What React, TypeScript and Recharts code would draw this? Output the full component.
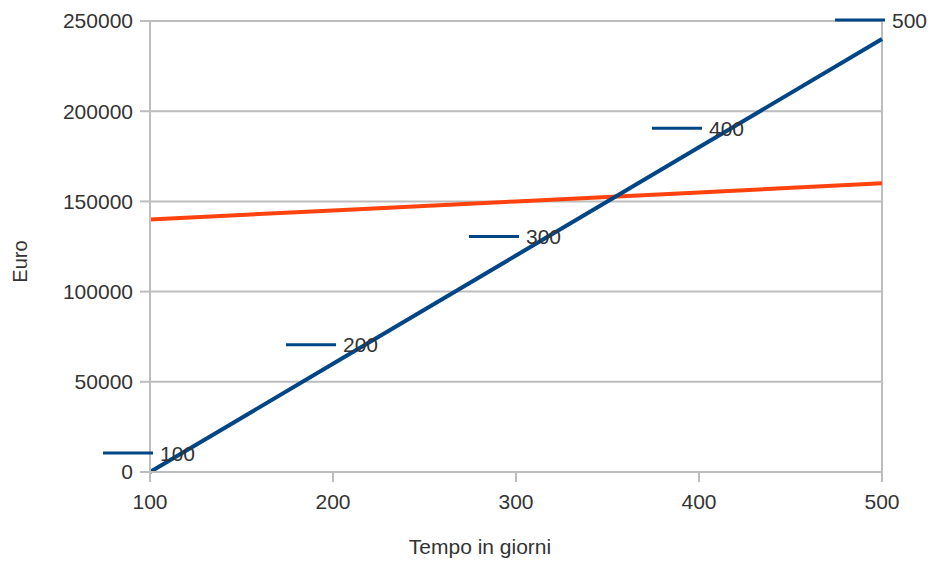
import React from 'react';
import { LineChart, Line, XAxis, YAxis, CartesianGrid, LabelList, ReferenceLine } from 'recharts';

const giorni = [100, 200, 300, 400, 500];
const costoA = [0, 60000, 120000, 180000, 240000];
const costoB = [140000, 145000, 150000, 155000, 160000];
const xTicks = [100, 200, 300, 400, 500];
const yTicks = [0, 50000, 100000, 150000, 200000, 250000];

const data = giorni.map((g, i) => ({ x: g, a: costoA[i], b: costoB[i] }));

const FONT = '"Liberation Sans", Arial, sans-serif';
const BLUE = '#004586';
const ORANGE = '#ff420e';
const GRID = '#bdbdbd';
const TEXT = '#333333';

const PointLabel = (props: any) => {
  const { x, y, value } = props;
  if (x == null || y == null) return null;
  return (
    <g>
      <line x1={x - 47} x2={x + 3} y1={y - 19} y2={y - 19} stroke={BLUE} strokeWidth={3} />
      <text x={x + 10} y={y - 19} dy="0.36em" fontSize={21} fontFamily={FONT} fill={TEXT}>
        {value}
      </text>
    </g>
  );
};

const XTitle = (props: any) => {
  const vb = props.viewBox || {};
  return (
    <text x={vb.x + vb.width / 2 - 36} y={vb.y + vb.height + 82} textAnchor="middle" fontSize={21} fontFamily={FONT} fill={TEXT}>
      Tempo in giorni
    </text>
  );
};

const YTitle = (props: any) => {
  const vb = props.viewBox || {};
  const cx = vb.x - 130;
  const cy = vb.y + vb.height / 2 + 15;
  return (
    <text x={cx} y={cy} textAnchor="middle" dy="0.36em" transform={`rotate(-90 ${cx} ${cy})`} fontSize={20} fontFamily={FONT} fill={TEXT}>
      Euro
    </text>
  );
};

export default function App() {
  return (
    <div style={{ position: 'absolute', left: 0, top: 0, width: 947, height: 563, background: '#fff' }}>
      <LineChart width={947} height={563} data={data} margin={{ top: 21, right: 65, left: 0, bottom: 0 }}>
        <CartesianGrid vertical={false} stroke={GRID} strokeWidth={2} />
        <XAxis
          dataKey="x"
          type="number"
          domain={[100, 500]}
          ticks={xTicks}
          height={91}
          tickSize={10}
          tickMargin={12}
          stroke={GRID}
          strokeWidth={2}
          tick={{ fill: TEXT, fontSize: 21, fontFamily: FONT }}
        />
        <YAxis
          type="number"
          domain={[0, 250000]}
          ticks={yTicks}
          width={150}
          tickSize={10}
          tickMargin={7}
          stroke={GRID}
          strokeWidth={2}
          tick={{ fill: TEXT, fontSize: 21, fontFamily: FONT }}
        />
        <ReferenceLine x={500} stroke={GRID} strokeWidth={2} />
        <ReferenceLine y={0} stroke="none" label={<XTitle />} />
        <ReferenceLine x={100} stroke="none" label={<YTitle />} />
        <Line dataKey="b" stroke={ORANGE} strokeWidth={4} dot={false} isAnimationActive={false} />
        <Line dataKey="a" stroke={BLUE} strokeWidth={4} dot={false} isAnimationActive={false}>
          <LabelList dataKey="x" content={<PointLabel />} />
        </Line>
      </LineChart>
    </div>
  );
}
